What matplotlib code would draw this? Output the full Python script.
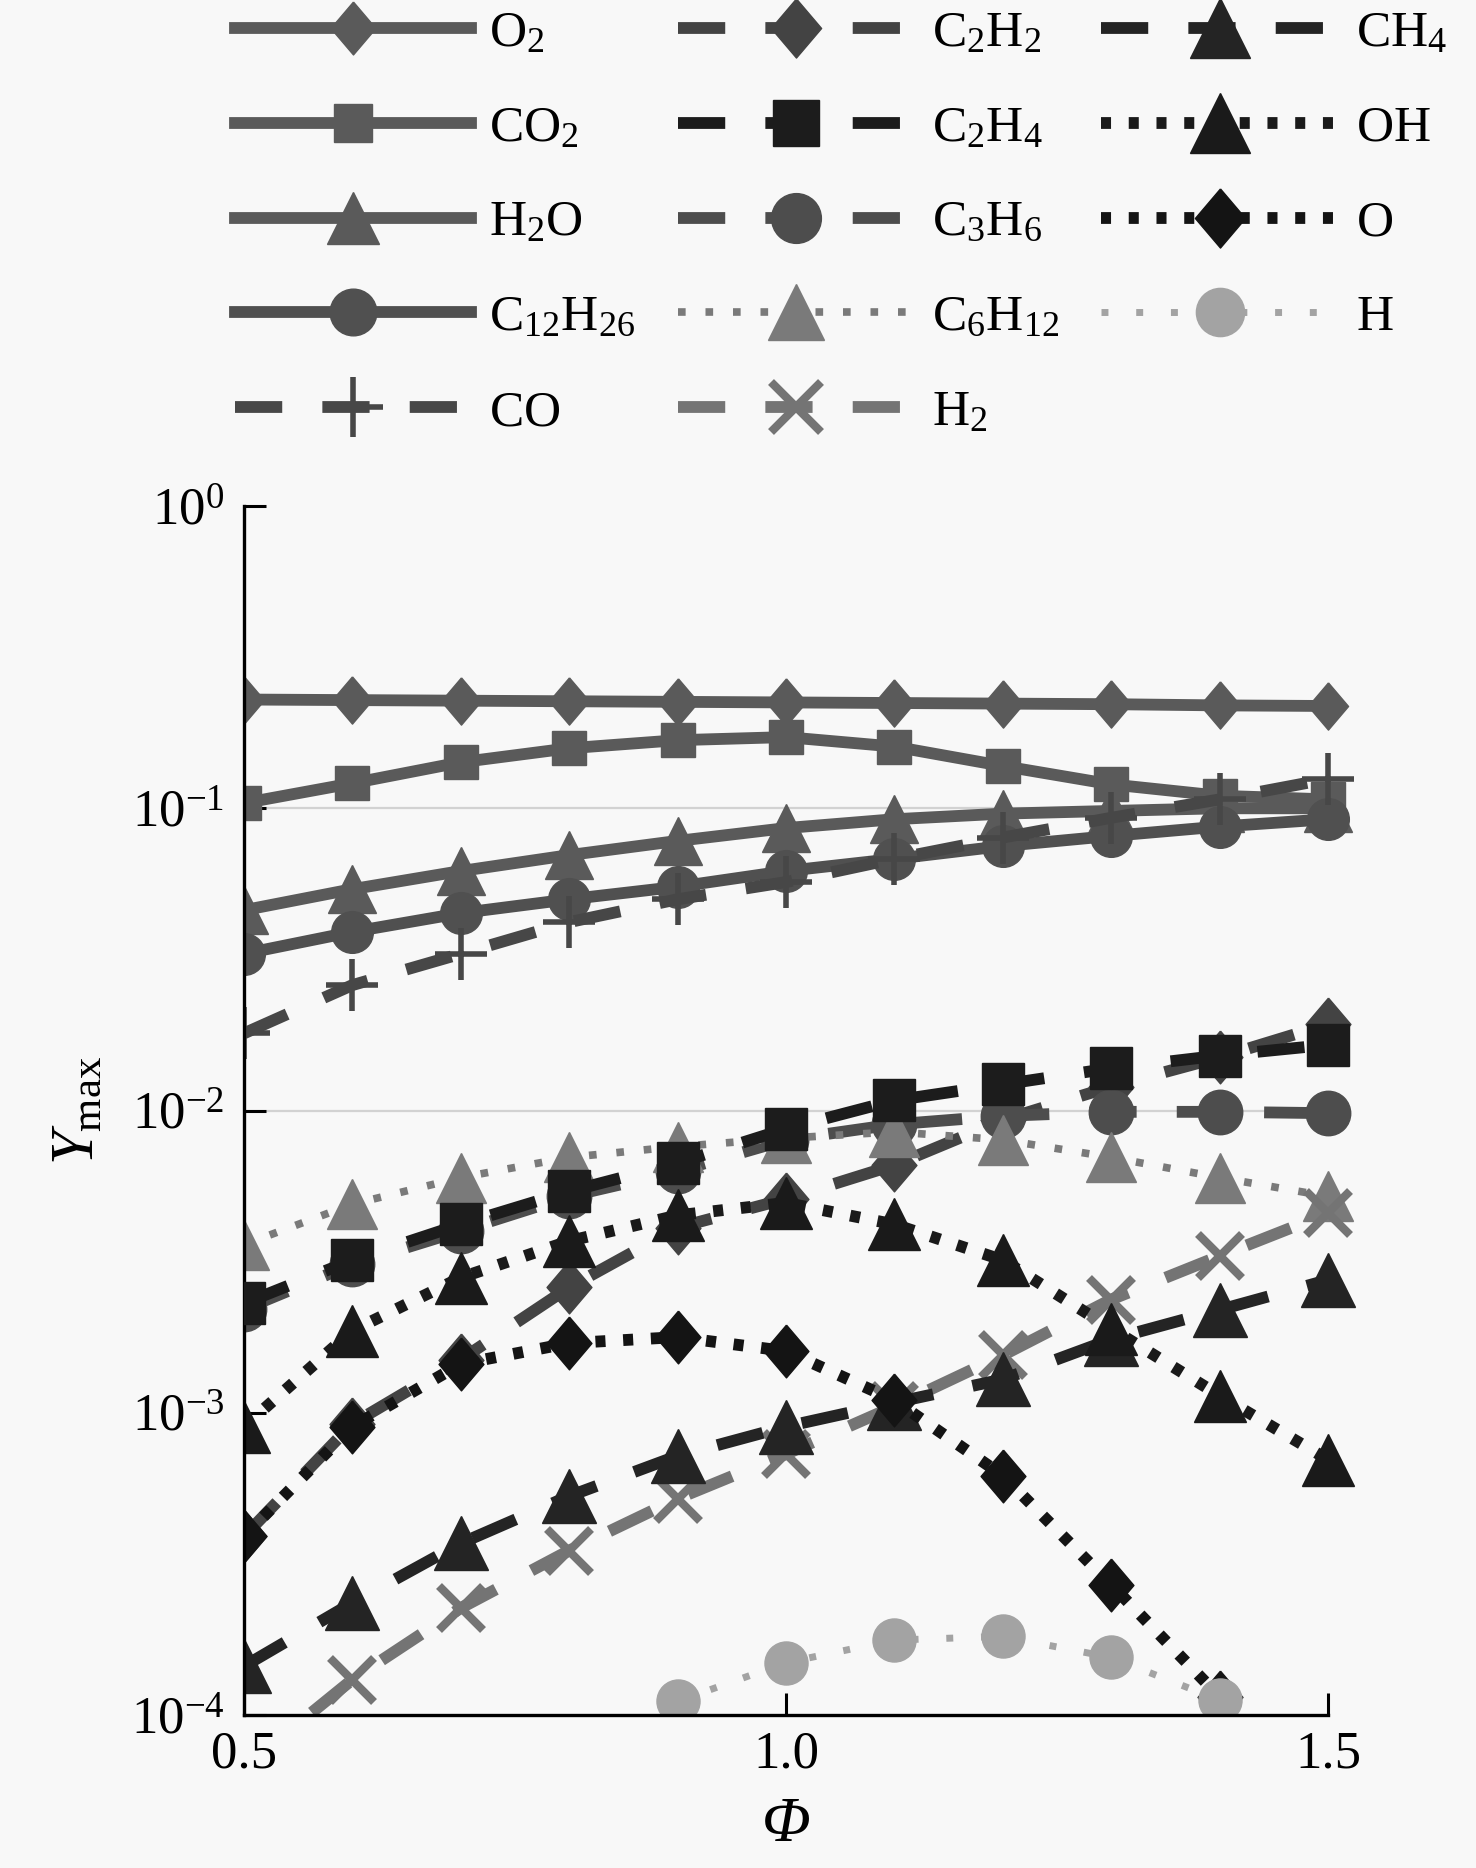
import numpy as np
import matplotlib
matplotlib.use('Agg')
import matplotlib.pyplot as plt
from matplotlib.patches import Rectangle
from matplotlib.ticker import NullLocator

plt.rcParams['font.family'] = ['Liberation Serif', 'DejaVu Serif']
plt.rcParams['mathtext.fontset'] = 'custom'
plt.rcParams['mathtext.rm'] = 'Liberation Serif'
plt.rcParams['mathtext.it'] = 'Liberation Serif:italic'
plt.rcParams['mathtext.bf'] = 'Liberation Serif:bold'

nan = np.nan

# equivalence ratio
phi = [0.5, 0.6, 0.7, 0.8, 0.9, 1.0, 1.1, 1.2, 1.3, 1.4, 1.5]

# peak mass fractions
y_O2 = [0.229, 0.228, 0.227, 0.226, 0.225, 0.224, 0.223, 0.222, 0.221, 0.219, 0.218]
y_CO2 = [0.104, 0.121, 0.142, 0.158, 0.168, 0.172, 0.160, 0.138, 0.120, 0.110, 0.107]
y_H2O = [0.046, 0.054, 0.062, 0.070, 0.078, 0.086, 0.092, 0.096, 0.098, 0.100, 0.100]
y_C12H26 = [0.033, 0.039, 0.045, 0.050, 0.055, 0.062, 0.068, 0.075, 0.081, 0.087, 0.092]
y_CO = [0.018, 0.026, 0.033, 0.042, 0.050, 0.057, 0.068, 0.080, 0.093, 0.107, 0.125]
y_C2H2 = [3.9e-4, 9.2e-4, 1.5e-3, 2.6e-3, 4.1e-3, 5.1e-3, 6.6e-3, 9.3e-3, 1.2e-2, 1.5e-2, 1.93e-2]
y_C2H4 = [2.3e-3, 3.2e-3, 4.2e-3, 5.4e-3, 6.7e-3, 8.7e-3, 1.08e-2, 1.22e-2, 1.38e-2, 1.52e-2, 1.65e-2]
y_C3H6 = [2.2e-3, 3.1e-3, 4.0e-3, 5.2e-3, 6.3e-3, 8.0e-3, 9.0e-3, 9.6e-3, 9.9e-3, 9.9e-3, 9.8e-3]
y_C6H12 = [3.6e-3, 4.9e-3, 6.0e-3, 7.0e-3, 7.6e-3, 8.1e-3, 8.5e-3, 8.0e-3, 7.0e-3, 6.0e-3, 5.2e-3]
y_H2 = [6.7e-5, 1.31e-4, 2.26e-4, 3.5e-4, 5.2e-4, 7.3e-4, 1.05e-3, 1.55e-3, 2.37e-3, 3.3e-3, 4.57e-3]
y_CH4 = [1.45e-4, 2.35e-4, 3.7e-4, 5.3e-4, 7.2e-4, 9.0e-4, 1.08e-3, 1.29e-3, 1.75e-3, 2.19e-3, 2.75e-3]
y_OH = [9.0e-4, 1.87e-3, 2.8e-3, 3.7e-3, 4.5e-3, 4.95e-3, 4.2e-3, 3.2e-3, 1.9e-3, 1.14e-3, 7.0e-4]
y_O = [3.9e-4, 9.0e-4, 1.45e-3, 1.70e-3, 1.78e-3, 1.60e-3, 1.10e-3, 6.2e-4, 2.7e-4, 1.15e-4, nan]
y_H = [nan, nan, nan, nan, 1.11e-4, 1.49e-4, 1.77e-4, 1.82e-4, 1.55e-4, 1.12e-4, nan]

labels = [r'$\mathrm{O_2}$', r'$\mathrm{CO_2}$', r'$\mathrm{H_2O}$', r'$\mathrm{C_{12}H_{26}}$',
          r'$\mathrm{CO}$', r'$\mathrm{C_2H_2}$', r'$\mathrm{C_2H_4}$', r'$\mathrm{C_3H_6}$',
          r'$\mathrm{C_6H_{12}}$', r'$\mathrm{H_2}$', r'$\mathrm{CH_4}$', r'$\mathrm{OH}$',
          r'$\mathrm{O}$', r'$\mathrm{H}$']
series = [y_O2, y_CO2, y_H2O, y_C12H26, y_CO, y_C2H2, y_C2H4, y_C3H6,
          y_C6H12, y_H2, y_CH4, y_OH, y_O, y_H]

grid_levels = [1e-1, 1e-2]

# line styles
diamond = [(0, 1), (0.85, 0), (0, -1), (-0.85, 0), (0, 1)]
solid = '-'
dashed = (0, (4.0, 3.4))
dotted = (0, (0.85, 1.5))
styles = [
    dict(color='#5a5a5a', ls=solid, lw=8.5, marker=diamond, ms=34),
    dict(color='#5a5a5a', ls=solid, lw=8.5, marker='s', ms=24),
    dict(color='#5a5a5a', ls=solid, lw=8.5, marker='^', ms=34),
    dict(color='#505050', ls=solid, lw=8.5, marker='o', ms=30),
    dict(color='#474747', ls=dashed, lw=8.5, marker='+', ms=38, mew=4),
    dict(color='#434343', ls=dashed, lw=8.5, marker=diamond, ms=38),
    dict(color='#1c1c1c', ls=dashed, lw=8.5, marker='s', ms=30, zorder=3),
    dict(color='#4d4d4d', ls=dashed, lw=8.5, marker='o', ms=32),
    dict(color='#7a7a7a', ls=(0, (1, 2.6)), lw=5.5, marker='^', ms=36),
    dict(color='#747474', ls=dashed, lw=8.5, marker='x', ms=32, mew=6),
    dict(color='#242424', ls=dashed, lw=8.5, marker='^', ms=39),
    dict(color='#1a1a1a', ls=dotted, lw=8.5, marker='^', ms=38),
    dict(color='#141414', ls=dotted, lw=8.5, marker=diamond, ms=38),
    dict(color='#a3a3a3', ls=(0, (1, 4)), lw=5, marker='o', ms=31),
]

fig = plt.figure(figsize=(14.76, 18.68), dpi=100, facecolor='#f8f8f8')
ax = fig.add_axes([0.1653, 0.0819, 0.7344, 0.6472])
ax.set_facecolor('#f8f8f8')

# clip at the left and bottom axis only, markers at phi=1.5 stay whole
clip = Rectangle((0, 0), 1.1, 1.1, transform=ax.transAxes)

for v in grid_levels:
    ax.axhline(v, color='#d2d2d2', lw=1.6, zorder=0)

handles = []
for y, lab, st in zip(series, labels, styles):
    st = dict(st)
    c = st.pop('color')
    mew = st.pop('mew', 1)
    line, = ax.plot(phi, y, color=c, mfc=c, mec=c, mew=mew, label=lab, **st)
    line.set_clip_path(clip)
    handles.append(line)

ax.set_yscale('log')
ax.set_ylim(1e-4, 1)
ax.set_xlim(0.5, 1.5)
ax.set_xticks([0.5, 1.0, 1.5])
ax.set_xticklabels(['0.5', '1.0', '1.5'])
ax.yaxis.set_minor_locator(NullLocator())
ax.tick_params(direction='in', length=16, width=2.2, labelsize=38, color='black')
ax.tick_params(axis='y', pad=14)
ax.tick_params(axis='x', pad=11)

for s in ['top', 'right']:
    ax.spines[s].set_visible(False)
for s in ['left', 'bottom']:
    ax.spines[s].set_linewidth(2.4)

ax.set_ylabel(r'$Y_{\mathrm{max}}$', fontsize=44)
ax.yaxis.set_label_coords(-0.128, 0.5)
ax.set_xlabel('Φ', fontsize=46, fontstyle='italic')
ax.xaxis.set_label_coords(0.5, -0.068)

ax.legend(handles, labels, ncol=3, loc='upper left',
          bbox_to_anchor=(235 / 1476, 1 - 10 / 1868), bbox_transform=fig.transFigure,
          frameon=False, fontsize=37, handlelength=4.6, handletextpad=0.35,
          columnspacing=0.82, labelspacing=0.93, borderpad=0, borderaxespad=0,
          markerscale=1.12, numpoints=1)

fig.savefig('out.png', dpi=100, facecolor=fig.get_facecolor())
